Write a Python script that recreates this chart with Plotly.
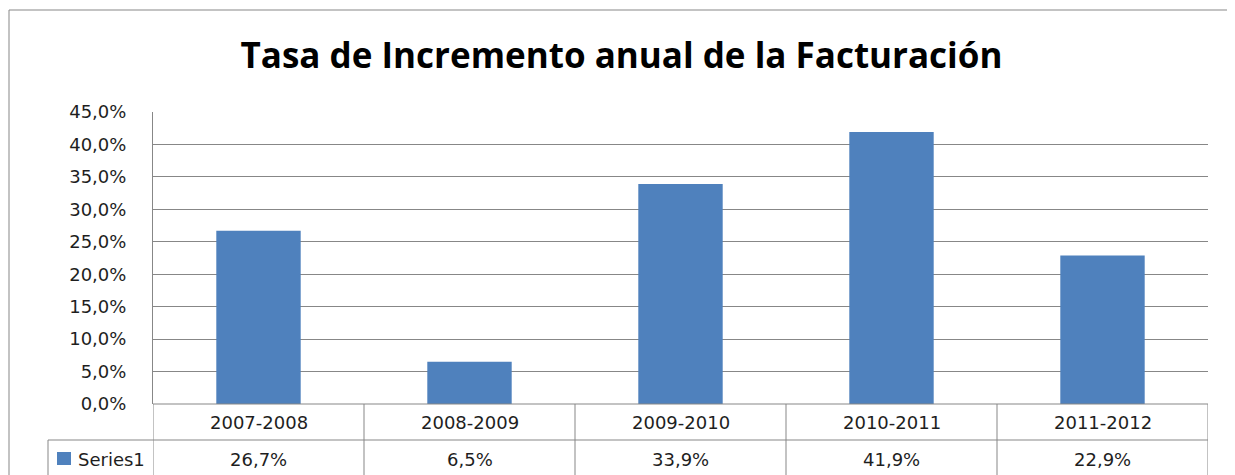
import plotly.graph_objects as go

categories = ["2007-2008", "2008-2009", "2009-2010", "2010-2011", "2011-2012"]
values = [26.7, 6.5, 33.9, 41.9, 22.9]
series_name = "Series1"
title_text = "Tasa de Incremento anual de la Facturación"
y_ticks = [0, 5, 10, 15, 20, 25, 30, 35, 40, 45]

BAR = "#4F81BD"
GRID = "#878787"
TXT = "#1e1e1e"
FONT = "DejaVu Sans"
TFONT = "Open Sans"

OFF = 8  # page body margin
W, H = 1235 - OFF, 475 - OFF
L, R, T, B = 153 - OFF, 27, 112 - OFF, 71
PW, PH = W - L - R, H - T - B


def px(x):
    return (x - OFF - L) / PW


def py(y):
    return (H - B - (y - OFF)) / PH


def fmt(v):
    return f"{v:.1f}".replace(".", ",") + "%"


fig = go.Figure()
fig.add_trace(go.Bar(x=list(range(len(categories))), y=values, marker=dict(color=BAR, line=dict(width=0)),
                     name=series_name, width=0.4))

shapes = []
line = dict(color=GRID, width=1)
n = len(categories)
# table horizontal lines
shapes.append(dict(type="line", xref="x", yref="paper", x0=-0.5, x1=n - 0.5, y0=0, y1=0, line=line))
shapes.append(dict(type="line", xref="paper", yref="paper", x0=px(48), x1=1, y0=py(440), y1=py(440), line=line))
# table vertical lines
for i in range(n + 1):
    shapes.append(dict(type="line", xref="x", yref="paper", x0=i - 0.5, x1=i - 0.5, y0=0, y1=py(480), line=line))
shapes.append(dict(type="line", xref="paper", yref="paper", x0=px(48), x1=px(48), y0=py(440), y1=py(480), line=line))
# legend key
shapes.append(dict(type="rect", xref="paper", yref="paper", x0=px(57), x1=px(71), y0=py(465), y1=py(452),
                   fillcolor=BAR, line=dict(width=0)))
# outer chart border
shapes.append(dict(type="line", xref="paper", yref="paper", x0=px(9), x1=px(9), y0=py(480), y1=py(10), line=line))
shapes.append(dict(type="line", xref="paper", yref="paper", x0=px(9), x1=px(1240), y0=py(10), y1=py(10), line=line))

annotations = []
for i, c in enumerate(categories):
    annotations.append(dict(x=i, y=py(422), xref="x", yref="paper", text=c, showarrow=False,
                            font=dict(family=FONT, size=18, color=TXT), xanchor="center", yanchor="middle"))
    annotations.append(dict(x=i, y=py(459), xref="x", yref="paper", text=fmt(values[i]), showarrow=False,
                            font=dict(family=FONT, size=18, color=TXT), xanchor="center", yanchor="middle"))
annotations.append(dict(x=px(76), y=py(459), xref="paper", yref="paper", text=series_name, showarrow=False,
                        font=dict(family=FONT, size=18, color=TXT), xanchor="left", yanchor="middle"))

fig.update_layout(
    width=W, height=H,
    margin=dict(l=L, r=R, t=T, b=B),
    paper_bgcolor="white", plot_bgcolor="white",
    showlegend=False,
    title=dict(text="<b>" + title_text + "</b>", x=0.5, xanchor="center", xref="container",
               y=1 - (56 - OFF) / H, yanchor="middle", yref="container",
               font=dict(family=TFONT, size=35, color="#000000")),
    xaxis=dict(range=[-0.5, n - 0.5], showticklabels=False, showgrid=False, zeroline=False,
               showline=False, ticks="", fixedrange=True),
    yaxis=dict(range=[0, 45], tickmode="array", tickvals=y_ticks, ticktext=[fmt(v) for v in y_ticks],
               showgrid=True, gridcolor=GRID, gridwidth=1, zeroline=False,
               showline=True, linecolor=GRID, linewidth=1, ticks="",
               ticklabelstandoff=22,
               tickfont=dict(family=FONT, size=18, color=TXT)),
    shapes=shapes,
    annotations=annotations,
)

fig.write_html("out.html")
